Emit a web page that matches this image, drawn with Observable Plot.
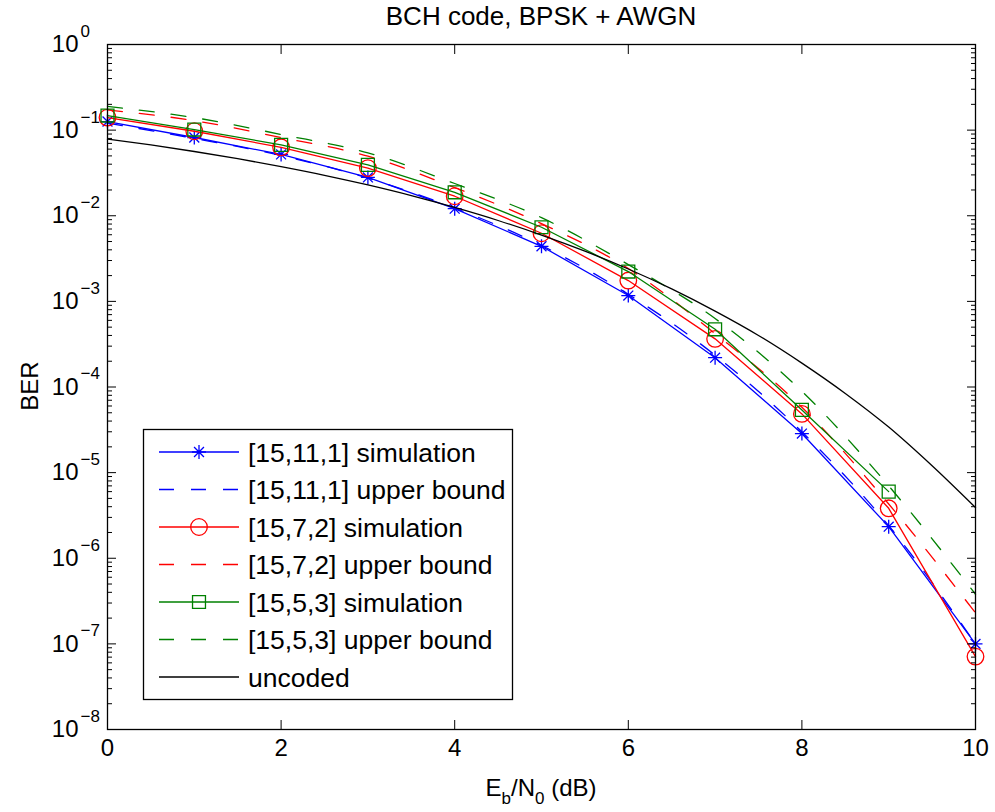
<!DOCTYPE html>
<html><head><meta charset="utf-8">
<script src="https://cdn.jsdelivr.net/npm/d3@7"></script>
<script src="https://cdn.jsdelivr.net/npm/@observablehq/plot@0.6"></script>
<style>
html,body{margin:0;padding:0;background:#fff;overflow:hidden}
#chart svg{font-family:"Liberation Sans",Arial,Helvetica,sans-serif;display:block}
</style></head><body><div id="chart"></div>
<script>
// ---- data ----
const ebn0 = [0, 1, 2, 3, 4, 5, 6, 7, 8, 9, 10];
const sim15_11 = [0.126, 0.082, 0.052, 0.028, 0.0121, 0.0044, 0.00117, 2.2e-4, 2.86e-5, 2.34e-6, 1.0e-7];
const bound15_11 = [0.121, 0.080, 0.0505, 0.0275, 0.0123, 0.0045, 0.00121, 2.35e-4, 3.0e-5, 2.4e-6, 1.0e-7];
const sim15_7 = [0.140, 0.097, 0.063, 0.036, 0.0169, 0.00625, 0.00175, 3.65e-4, 4.85e-5, 3.83e-6, 7.1e-8];
const bound15_7 = [0.172, 0.129, 0.082, 0.0496, 0.0213, 0.0081, 0.00242, 4.2e-4, 5.8e-5, 4.3e-6, 2.3e-7];
const sim15_5 = [0.148, 0.1016, 0.0673, 0.0393, 0.0188, 0.00734, 0.00223, 4.72e-4, 5.4e-5, 6.0e-6, null];
const bound15_5 = [0.189, 0.140, 0.089, 0.0543, 0.0238, 0.0095, 0.00269, 6.3e-4, 8.9e-5, 7.0e-6, 3.8e-7];
const uncodedX = [0, 0.5, 1, 1.5, 2, 2.5, 3, 3.5, 4, 4.5, 5, 5.5, 6, 6.5, 7, 7.5, 8, 8.5, 9, 9.5, 10];
const uncoded = [0.0786, 0.0671, 0.0563, 0.0464, 0.0375, 0.0297, 0.0229, 0.0172, 0.0125, 0.0088, 0.00595, 0.00386, 0.00239, 0.0014, 7.7e-4, 4.0e-4, 1.9e-4, 8.4e-5, 3.4e-5, 1.2e-5, 3.9e-6];

const xTicks = [0, 2, 4, 6, 8, 10];
const yTicks = [1e-8, 1e-7, 1e-6, 1e-5, 1e-4, 1e-3, 1e-2, 1e-1, 1];
const yExponents = ["\u22128", "\u22127", "\u22126", "\u22125", "\u22124", "\u22123", "\u22122", "\u22121", "0"];
const minorMult = [2, 3, 4, 5, 6, 7, 8, 9];
const titleText = "BCH code, BPSK + AWGN";
const yLabel = "BER";
const legendNames = ["[15,11,1] simulation", "[15,11,1] upper bound", "[15,7,2] simulation", "[15,7,2] upper bound", "[15,5,3] simulation", "[15,5,3] upper bound", "uncoded"];

const BLUE = "#0000ff", RED = "#ff0000", GREEN = "#008000", BLACK = "#000000";
const LW = 1.3, DASH = "15,17";

const minorTicks = yTicks.slice(0, -1).flatMap(t => minorMult.map(m => m * t));
const rows = (xs, ys) => xs.map((x, i) => ({x, y: ys[i]})).filter(d => d.y != null);

const asterisk = {
  draw(ctx, size) {
    const r = Math.sqrt(size / Math.PI), d = r * Math.SQRT1_2;
    ctx.moveTo(-r, 0); ctx.lineTo(r, 0);
    ctx.moveTo(0, -r); ctx.lineTo(0, r);
    ctx.moveTo(-d, -d); ctx.lineTo(d, d);
    ctx.moveTo(-d, d); ctx.lineTo(d, -d);
  }
};

const series = [
  {ys: sim15_11, color: BLUE, dash: null, symbol: asterisk, r: 7},
  {ys: bound15_11, color: BLUE, dash: DASH, symbol: null},
  {ys: sim15_7, color: RED, dash: null, symbol: "circle", r: 8.3},
  {ys: bound15_7, color: RED, dash: DASH, symbol: null},
  {ys: sim15_5, color: GREEN, dash: null, symbol: "square", r: 7.3},
  {ys: bound15_5, color: GREEN, dash: DASH, symbol: null},
];

const dataMarks = [];
for (const s of series) {
  const data = rows(ebn0, s.ys);
  if (s.dash) {
    dataMarks.push(Plot.line(data, {x: "x", y: "y", stroke: s.color, strokeWidth: LW, strokeDasharray: s.dash, curve: "monotone-x"}));
  } else {
    dataMarks.push(Plot.line(data, {x: "x", y: "y", stroke: s.color, strokeWidth: LW}));
    dataMarks.push(Plot.dot(data, {x: "x", y: "y", stroke: s.color, strokeWidth: LW, symbol: s.symbol, r: s.r, fill: "none"}));
  }
}
dataMarks.push(Plot.line(rows(uncodedX, uncoded), {x: "x", y: "y", stroke: BLACK, strokeWidth: LW, curve: "monotone-x"}));

const chart = Plot.plot({
  width: 995, height: 812,
  marginLeft: 107, marginRight: 20, marginTop: 44, marginBottom: 83,
  style: {fontFamily: '"Liberation Sans", Arial, Helvetica, sans-serif', fontSize: "24px", color: "#000", background: "#fff"},
  x: {domain: [0, 10]},
  y: {type: "log", domain: [1e-8, 1]},
  marks: [
    ...dataMarks,
    Plot.axisY({anchor: "left", ticks: minorTicks, tickSize: -5, tickFormat: () => "", label: null, strokeWidth: 1}),
    Plot.axisY({anchor: "right", ticks: minorTicks, tickSize: -5, tickFormat: () => "", label: null, strokeWidth: 1}),
    Plot.axisY({anchor: "left", ticks: yTicks, tickSize: -9, tickFormat: () => "", label: null, strokeWidth: 1}),
    Plot.axisY({anchor: "right", ticks: yTicks, tickSize: -9, tickFormat: () => "", label: null, strokeWidth: 1}),
    Plot.axisX({anchor: "bottom", ticks: xTicks, tickSize: -9, tickPadding: 18, label: null, fontSize: 24, strokeWidth: 1}),
    Plot.axisX({anchor: "top", ticks: xTicks, tickSize: -9, tickFormat: () => "", label: null, strokeWidth: 1}),
    Plot.text(yTicks, {y: d => d, frameAnchor: "left", text: () => "10", textAnchor: "end", dx: -29, fontSize: 24}),
    Plot.text(yTicks, {y: d => d, frameAnchor: "left", text: (d, i) => yExponents[i], textAnchor: "start", dx: -27, dy: -13, fontSize: 17}),
    Plot.frame({stroke: BLACK, strokeWidth: 1.3}),
  ]
});
document.getElementById("chart").append(chart);

// ---- annotations: title, axis labels, legend ----
const svg = d3.select(chart);
const FONT = '"Liberation Sans", Arial, Helvetica, sans-serif';
svg.append("text").attr("x", 541).attr("y", 25).attr("text-anchor", "middle")
  .attr("font-family", FONT).attr("font-size", 26).attr("fill", "#000").text(titleText);

svg.append("text").attr("transform", "translate(38,386) rotate(-90)").attr("text-anchor", "middle")
  .attr("font-family", FONT).attr("font-size", 24).attr("fill", "#000").text(yLabel);

const xl = svg.append("text").attr("x", 541).attr("y", 796).attr("text-anchor", "middle")
  .attr("font-family", FONT).attr("font-size", 24).attr("fill", "#000");
xl.append("tspan").text("E");
xl.append("tspan").attr("font-size", 17).attr("dy", 8).text("b");
xl.append("tspan").attr("dy", -8).text("/N");
xl.append("tspan").attr("font-size", 17).attr("dy", 8).text("0");
xl.append("tspan").attr("dy", -8).text(" (dB)");

const legendStyle = [
  {color: BLUE, dash: null, symbol: asterisk, r: 7},
  {color: BLUE, dash: DASH},
  {color: RED, dash: null, symbol: d3.symbolCircle, r: 8.3},
  {color: RED, dash: DASH},
  {color: GREEN, dash: null, symbol: d3.symbolSquare, r: 7.3},
  {color: GREEN, dash: DASH},
  {color: BLACK, dash: null},
];
const lg = svg.append("g");
lg.append("rect").attr("x", 143.5).attr("y", 429.5).attr("width", 369).attr("height", 270)
  .attr("fill", "#fff").attr("stroke", "#000").attr("stroke-width", 1.3);
legendNames.forEach((name, i) => {
  const st = legendStyle[i];
  const y = 452 + i * 37.5;
  lg.append("line").attr("x1", 159).attr("x2", 239).attr("y1", y).attr("y2", y)
    .attr("stroke", st.color).attr("stroke-width", LW).attr("stroke-dasharray", st.dash);
  if (st.symbol) {
    lg.append("path").attr("transform", `translate(199,${y})`)
      .attr("d", d3.symbol(st.symbol, Math.PI * st.r * st.r)())
      .attr("fill", "none").attr("stroke", st.color).attr("stroke-width", LW);
  }
  lg.append("text").attr("x", 248).attr("y", y).attr("dy", "0.36em").attr("text-anchor", "start")
    .attr("font-family", FONT).attr("font-size", 26.5).attr("fill", "#000").text(name);
});
</script></body></html>
